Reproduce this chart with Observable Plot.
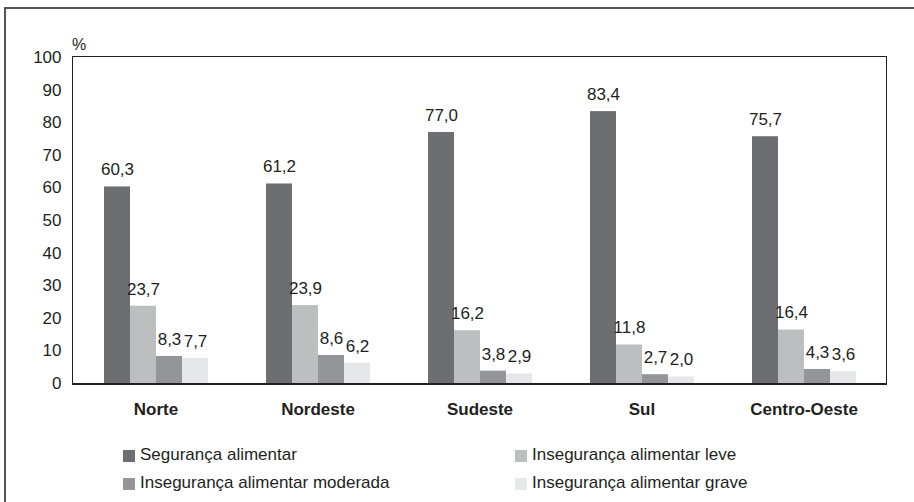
<!DOCTYPE html>
<html>
<head>
<meta charset="utf-8">
<script src="https://cdn.jsdelivr.net/npm/d3@7"></script>
<script src="https://cdn.jsdelivr.net/npm/@observablehq/plot@0.6"></script>
<style>
  html, body { margin: 0; padding: 0; background: #fff; }
  #wrap { position: relative; width: 914px; height: 502px; overflow: hidden; font-family: "Liberation Sans", Arial, sans-serif; color: #231f20; }
  #borderL { position: absolute; left: 4px; top: 7px; width: 2px; height: 500px; background: #555; }
  #borderT { position: absolute; left: 4px; top: 7px; width: 920px; height: 2px; background: #555; }
  #chart { position: absolute; left: 0; top: 0; }
  #frame { position: absolute; left: 72px; top: 56px; width: 813px; height: 326px; border: 1.5px solid #231f20; border-bottom-width: 2px; pointer-events: none; }
  #pct { position: absolute; left: 72px; top: 37px; font-size: 16px; line-height: 16px; }
  .leg { position: absolute; font-size: 17px; line-height: 17px; white-space: nowrap; }
  .leg span.sw { position: absolute; left: 0; top: 4px; width: 12px; height: 12px; }
  .leg span.tx { position: absolute; left: 17px; top: 0; }
</style>
</head>
<body>
<div id="wrap">
  <div id="borderL"></div>
  <div id="borderT"></div>
  <div id="chart"></div>
  <div id="frame"></div>
  <div id="pct">%</div>
  <div id="legend"></div>
</div>
<script>
const regions = ["Norte", "Nordeste", "Sudeste", "Sul", "Centro-Oeste"];
const series = ["Segurança alimentar", "Insegurança alimentar leve", "Insegurança alimentar moderada", "Insegurança alimentar grave"];
const seguranca = [60.3, 61.2, 77.0, 83.4, 75.7];
const leve = [23.7, 23.9, 16.2, 11.8, 16.4];
const moderada = [8.3, 8.6, 3.8, 2.7, 4.3];
const grave = [7.7, 6.2, 2.9, 2.0, 3.6];
const yTicks = [0, 10, 20, 30, 40, 50, 60, 70, 80, 90, 100];
const colors = ["#6d6e71", "#bcbec0", "#939598", "#e6e7e8"];

const valuesBySeries = [seguranca, leve, moderada, grave];
const data = [];
regions.forEach((r, i) => {
  series.forEach((s, j) => {
    data.push({region: r, series: s, value: valuesBySeries[j][i]});
  });
});

const fmt = v => v.toFixed(1).replace(".", ",");

const chart = Plot.plot({
  width: 914,
  height: 420,
  marginLeft: 73,
  marginRight: 28,
  marginTop: 57,
  marginBottom: 37,
  style: {fontFamily: "'Liberation Sans', Arial, sans-serif", fontSize: "17px", color: "#231f20", background: "transparent"},
  fx: {domain: regions, paddingInner: 0.34, paddingOuter: 0.17, label: null, tickSize: 0, tickPadding: 19, axis: "bottom"},
  x: {domain: series, padding: 0, axis: null},
  y: {domain: [0, 100], ticks: yTicks, tickSize: 0, tickPadding: 41, label: null},
  color: {domain: series, range: colors},
  marks: [
    Plot.barY(data, {fx: "region", x: "series", y: "value", fill: "series"}),
    Plot.text(data, {fx: "region", x: "series", y: "value", text: d => fmt(d.value), dy: -17, fill: "#231f20", fontSize: 17})
  ]
});
chart.querySelectorAll("g[aria-label='fx-axis tick label'] text, g[aria-label='fx-axis tick label']").forEach(el => el.setAttribute("font-weight", "bold"));
document.getElementById("chart").appendChild(chart);

const legendPos = [[123, 446], [515, 446], [123, 474], [515, 474]];
const order = [0, 1, 2, 3];
const legend = document.getElementById("legend");
order.forEach((k, i) => {
  const d = document.createElement("div");
  d.className = "leg";
  d.style.left = legendPos[i][0] + "px";
  d.style.top = legendPos[i][1] + "px";
  d.innerHTML = `<span class="sw" style="background:${colors[k]}"></span><span class="tx">${series[k]}</span>`;
  legend.appendChild(d);
});
</script>
</body>
</html>
